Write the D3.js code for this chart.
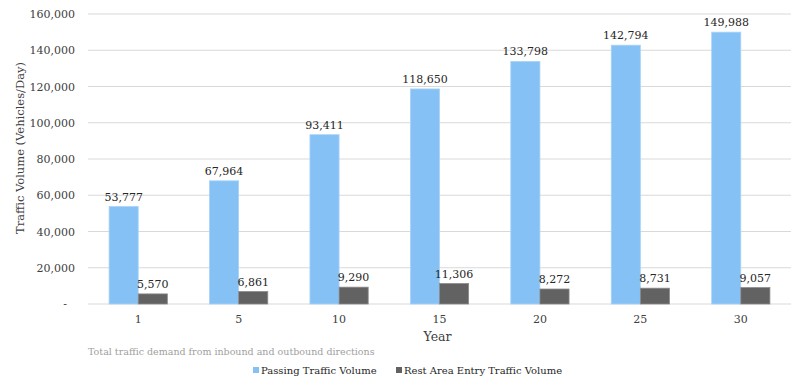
<!DOCTYPE html>
<html>
<head>
<meta charset="utf-8">
<script src="https://cdn.jsdelivr.net/npm/d3@7"></script>
<style>
  body { margin: 0; background: #fff; }
  svg, svg text { font-family: Georgia, "DejaVu Serif", serif; }
</style>
</head>
<body>
<div id="d3"></div>
<script>
const years = ["1", "5", "10", "15", "20", "25", "30"];
const passing = [53777, 67964, 93411, 118650, 133798, 142794, 149988];
const restArea = [5570, 6861, 9290, 11306, 8272, 8731, 9057];
const yTicks = [0, 20000, 40000, 60000, 80000, 100000, 120000, 140000, 160000];
const seriesNames = ["Passing Traffic Volume", "Rest Area Entry Traffic Volume"];
const colors = ["#85c1f5", "#626262"];

const width = 791, height = 378;
const margin = { top: 14, right: 0, bottom: 74, left: 88 };
const innerW = width - margin.left - margin.right;
const innerH = height - margin.top - margin.bottom;
const serif = 'Georgia, "DejaVu Serif", serif';

const svg = d3.select("#d3").append("svg").attr("width", width).attr("height", height)
  .style("font-family", serif);
const g = svg.append("g").attr("transform", `translate(${margin.left},${margin.top})`);

const x = d3.scaleBand().domain(years).range([0, innerW]).paddingInner(0.42).paddingOuter(0.21);
const xSub = d3.scaleBand().domain([0, 1]).range([0, x.bandwidth()]);
const y = d3.scaleLinear().domain([0, 160000]).range([innerH, 0]);

// gridlines
g.selectAll(".grid").data(yTicks).enter().append("line")
  .attr("x1", 0).attr("x2", innerW)
  .attr("y1", d => y(d)).attr("y2", d => y(d))
  .attr("stroke", "#d9d9d9").attr("stroke-width", 1);

// y axis
const yAxis = g.append("g").call(d3.axisLeft(y).tickValues(yTicks).tickSize(0).tickPadding(13)
  .tickFormat(d => d === 0 ? "-" : d3.format(",")(d)));
yAxis.select(".domain").remove();
yAxis.selectAll("text").attr("font-size", 11).attr("fill", "#404040").style("font-family", serif);
yAxis.selectAll("text").filter(d => d === 0).attr("dx", -8);

// x axis
const xAxis = g.append("g").attr("transform", `translate(0,${innerH})`)
  .call(d3.axisBottom(x).tickSize(0).tickPadding(11));
xAxis.select(".domain").remove();
xAxis.selectAll("text").attr("font-size", 11).attr("fill", "#404040").style("font-family", serif);

const data = years.map((yr, i) => ({ year: yr, values: [passing[i], restArea[i]] }));

const groups = g.selectAll(".grp").data(data).enter().append("g")
  .attr("transform", d => `translate(${x(d.year)},0)`);

groups.selectAll("rect").data(d => d.values).enter().append("rect")
  .attr("x", (d, i) => xSub(i))
  .attr("y", d => y(d))
  .attr("width", xSub.bandwidth())
  .attr("height", d => innerH - y(d))
  .attr("fill", (d, i) => colors[i])
  .attr("stroke", (d, i) => i === 0 ? "#a9d3f8" : "#8a8a8a")
  .attr("stroke-width", 0.8);

groups.selectAll(".lbl").data(d => d.values).enter().append("text")
  .attr("x", (d, i) => xSub(i) + xSub.bandwidth() / 2)
  .attr("y", d => y(d) - 6)
  .attr("text-anchor", "middle")
  .attr("font-size", 11)
  .attr("fill", "#262626")
  .text(d => d3.format(",")(d));

// axis titles
svg.append("text")
  .attr("transform", `translate(24,148) rotate(-90)`)
  .attr("text-anchor", "middle").attr("font-size", 11.5).attr("fill", "#404040")
  .text("Traffic Volume (Vehicles/Day)");

svg.append("text")
  .attr("x", margin.left + innerW / 2 - 2).attr("y", 341)
  .attr("text-anchor", "middle").attr("font-size", 12.5).attr("fill", "#404040")
  .text("Year");

svg.append("text")
  .attr("x", 88).attr("y", 355)
  .attr("font-size", 9.5).attr("fill", "#a0a0a0")
  .text("Total traffic demand from inbound and outbound directions");

// legend
const legendX = [253, 396];
const legend = svg.selectAll(".leg").data(seriesNames).enter().append("g")
  .attr("transform", (d, i) => `translate(${legendX[i]},374)`);
legend.append("rect").attr("x", 0).attr("y", -7).attr("width", 6).attr("height", 6)
  .attr("fill", (d, i) => colors[i]);
legend.append("text").attr("x", 8).attr("y", 0)
  .attr("font-size", 10).attr("fill", "#262626")
  .text(d => d);
</script>
</body>
</html>
